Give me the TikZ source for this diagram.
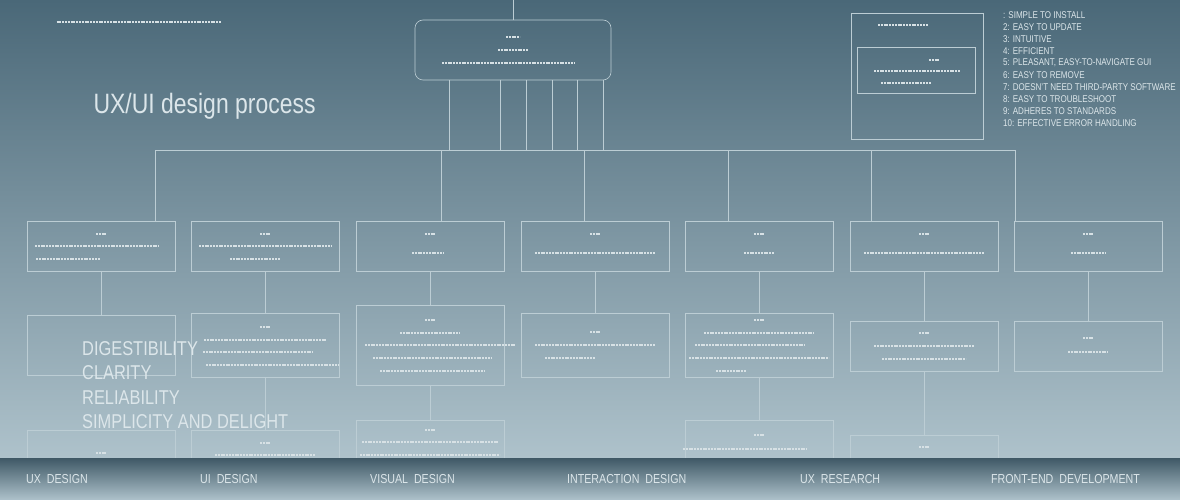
\documentclass[tikz,border=0pt]{standalone}
\usepackage{fontspec}
\setmainfont{Liberation Sans}[FakeStretch=0.82]
\usetikzlibrary{calc}
\definecolor{bgtop}{HTML}{4A6878}
\definecolor{bgbot}{HTML}{AEC2CB}
\definecolor{wire}{HTML}{BCCDD4}
\definecolor{ink}{HTML}{DCE6EA}
\def\squig(#1)(#2){\draw[wire!60!white, line width=1.8pt, dash pattern=on 2pt off 0.8pt] ($(#1)-(#2/2,0)$) -- ++(#2,0);}

\begin{document}
\begin{tikzpicture}[x=1pt,y=-1pt,
	cell/.style={draw=wire, line width=0.6pt, minimum width=148pt, inner sep=0pt},
	wirel/.style={draw=wire, line width=0.6pt},
	bar/.style={ink, font=\fontsize{13}{13}\selectfont, anchor=west}]
		%%%%% START %%%%%
		\useasboundingbox (0,0) rectangle (1180,500);
		\shade[top color=bgtop, bottom color=bgbot] (0,0) rectangle (1180,458);
		
		% title and lists
		\node[ink, font=\fontsize{28}{28}\selectfont, anchor=west] (title) at (90,106) {UX/UI design process};
		\squig(139,22)(165)
		\foreach \t [count=\i] in {: SIMPLE TO INSTALL, 2: EASY TO UPDATE, 3: INTUITIVE, 4: EFFICIENT,
			{5: PLEASANT, EASY-TO-NAVIGATE GUI}, 6: EASY TO REMOVE, 7: DOESN'T NEED THIRD-PARTY SOFTWARE,
			8: EASY TO TROUBLESHOOT, 9: ADHERES TO STANDARDS, 10: EFFECTIVE ERROR HANDLING}
			\node[ink, font=\fontsize{9.8}{9.8}\selectfont, anchor=west, inner sep=0pt] (q\i) at (1003,3+12*\i) {\t};
		
		% top box
		\coordinate (root) at (513,0);
		\node[cell, rounded corners=8pt, minimum width=196pt, minimum height=60pt] (top) at (513,50) {};
		\draw[wirel] (root) -- (top.north);
		\squig(513,37)(14) \squig(513,50)(30) \squig(508,63)(132)
		\foreach \x in {449,500,526,552,577,603}
			\draw[wirel] (top.south -| \x,0) -- (\x,150);
		
		% side box
		\node[cell, minimum width=132pt, minimum height=126pt] (side) at (917,76) {};
		\node[cell, minimum width=118pt, minimum height=46pt] (sidein) at (916,70) {};
		\squig(903,25)(50) \squig(934,60)(10) \squig(917,71)(86) \squig(906,83)(50)
		
		% spine
		\draw[wirel] (155,150) -- (1015,150);
		
		% first row
		\foreach \c/\x in {1/101,2/265,3/430,4/595,5/759,6/924,7/1088}{
			\node[cell, minimum height=50pt] (a\c) at (\x,246) {};
			\squig(\x,234)(10)
		}
		\squig(97,246)(124) \squig(68,259)(64)
		\squig(265,246)(132) \squig(255,259)(50)
		\squig(428,253)(32) \squig(595,253)(120) \squig(759,253)(30)
		\squig(924,253)(120) \squig(1088,253)(34)
		\foreach \c/\x in {1/155,3/441,4/584,5/728,6/871,7/1015}
			\draw[wirel] (\x,150) -- (a\c.north -| \x,0);
		
		% second row
		\foreach \c/\x/\y/\h in {1/101/345/60,2/265/345/64,3/430/345/80,4/595/345/64,5/759/345/64,6/924/346/50,7/1088/346/50}{
			\node[cell, minimum height=\h pt] (b\c) at (\x,\y) {};
			\draw[wirel] (a\c) -- (b\c);
		}
		\squig(265,327)(10) \squig(265,340)(122) \squig(258,352)(110) \squig(272,365)(132)
		\squig(430,320)(10) \squig(430,333)(60) \squig(440,345)(150) \squig(432,358)(118) \squig(432,371)(104)
		\squig(595,332)(10) \squig(595,345)(120) \squig(570,358)(50)
		\squig(759,320)(10) \squig(759,333)(110) \squig(750,345)(110) \squig(759,358)(140) \squig(731,371)(30)
		\squig(924,333)(10) \squig(924,346)(100) \squig(924,359)(84)
		\squig(1088,338)(10) \squig(1088,352)(40)
		
		% third row
		\foreach \c/\x/\y in {1/101/430,2/265/430,3/430/420,5/759/420,6/924/435}
			\node[cell, minimum height=60pt, anchor=north] (c\c) at (\x,\y) {};
		\foreach \c in {2,3,5,6}
			\draw[wirel] (b\c) -- (c\c);
		\squig(101,453)(10) \squig(265,443)(10) \squig(265,455)(100)
		\squig(430,430)(10) \squig(430,442)(136) \squig(430,455)(140)
		\squig(759,435)(10) \squig(745,449)(124) \squig(924,447)(10)
		
		% qualities
		\foreach \t [count=\i] in {DIGESTIBILITY, CLARITY, RELIABILITY, SIMPLICITY AND DELIGHT}
			\node[ink, font=\fontsize{20}{20}\selectfont, anchor=west, inner sep=0pt] (v\i) at (82,324+24.5*\i) {\t};
		
		% bottom bar
		\shade[top color=bgtop!85!black, bottom color=bgbot] (0,458) rectangle (1180,500);
		\foreach \t/\x in {UX~~DESIGN/26, UI~~DESIGN/200, VISUAL~~DESIGN/370, INTERACTION~~DESIGN/567, UX~~RESEARCH/800, FRONT-END~~DEVELOPMENT/991}
			\node[bar, inner sep=0pt] (tab\x) at (\x,479) {\t};
		%%%%% END %%%%%
\end{tikzpicture}
\end{document}
